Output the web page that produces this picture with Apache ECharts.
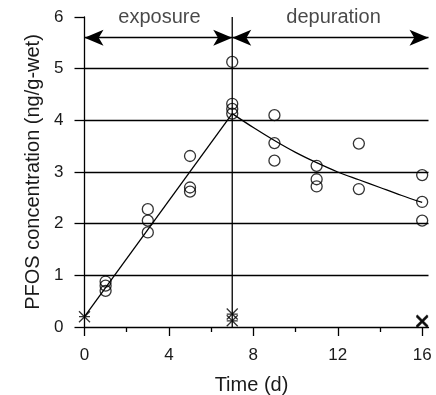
<!DOCTYPE html>
<html><head><meta charset="utf-8">
<script src="https://cdn.jsdelivr.net/npm/echarts@6/dist/echarts.min.js"></script>
<style>html,body{margin:0;padding:0;background:#fff}#c{width:436px;height:395px}</style>
</head><body><div id="c"></div>
<script>
// observed concentrations (open circles)
const obsDays = [1,1,1, 3,3,3, 5,5,5, 7,7,7,7, 9,9,9, 11,11,11, 13,13, 16,16,16];
const obsConc = [0.88,0.80,0.70, 2.28,2.06,1.83, 3.31,2.70,2.62, 5.13,4.32,4.22,4.13, 4.10,3.56,3.22, 3.12,2.86,2.72, 3.55,2.67, 2.94,2.42,2.06];
// control (crosses)
const ctrlDaysA = [0, 7, 7];
const ctrlConcA = [0.20, 0.25, 0.12];
const ctrlDaysB = [16, 16];
const ctrlConcB = [0.12, 0.10];
// fitted model: uptake phase (straight) and depuration phase (curve)
const uptakeDays = [0, 7];
const uptakeConc = [0.20, 4.13];
const depDays = [7, 8, 9, 10, 11, 12, 13, 14, 15, 16];
const depConc = [4.13, 3.86, 3.61, 3.38, 3.18, 3.00, 2.85, 2.70, 2.55, 2.41];
// phase boundary and labels
const phaseBoundary = 7;
const phaseStart = [0, 7];
const phaseEnd = [7, 16.3];
const phaseArrowY = 5.6;
const phaseLabels = ['exposure', 'depuration'];
const phaseLabelX = [3.55, 11.8];
const phaseLabelY = 6;
// axes
const xTicksMajor = [0, 4, 8, 12, 16];
const xTicksMinor = [2, 6, 10, 14];
const xMax = 16.3;
const yMin = 0, yMax = 6, yStep = 1;

const FONT = '"Liberation Sans", Arial, sans-serif';
const TXT = '#1a1a1a';
const ch = echarts.init(document.getElementById('c'));

const pairs = (a, b) => a.map((v, i) => [v, b[i]]);
const asterisk = 'path://M0,0L10,10M10,0L0,10M0,5L10,5';
const xmark = 'path://M0,0L10,10M10,0L0,10';

ch.setOption({
  animation: false,
  grid: {left: 84.5, right: 7.5, top: 17, bottom: 68, containLabel: false, outerBoundsMode: 'none'},
  xAxis: [{
    type: 'value', min: 0, max: xMax,
    name: 'Time (d)', nameLocation: 'middle', nameGap: 48,
    nameTextStyle: {fontFamily: FONT, fontSize: 20, color: TXT, padding: [0, 10, 0, 0]},
    axisLine: {show: true, onZero: false, lineStyle: {color: '#000', width: 1.3}},
    axisTick: {show: true, inside: false, length: 9, customValues: xTicksMajor, lineStyle: {color: '#000', width: 1.3}},
    axisLabel: {customValues: xTicksMajor, margin: 20, fontFamily: FONT, fontSize: 17, color: TXT},
    splitLine: {show: false}
  }, {
    type: 'value', min: 0, max: xMax, position: 'bottom',
    axisLine: {show: false},
    axisTick: {show: true, length: 5, customValues: xTicksMinor, lineStyle: {color: '#000', width: 1.3}},
    axisLabel: {show: false},
    splitLine: {show: false}
  }],
  yAxis: {
    type: 'value', min: yMin, max: yMax, interval: yStep,
    name: 'PFOS concentration (ng/g-wet)', nameLocation: 'middle', nameGap: 39,
    nameTextStyle: {fontFamily: FONT, fontSize: 20, color: TXT},
    axisLine: {show: true, onZero: false, lineStyle: {color: '#000', width: 1.3}},
    axisTick: {show: true, length: 10, lineStyle: {color: '#000', width: 1.3}},
    axisLabel: {margin: 21, fontFamily: FONT, fontSize: 17, color: TXT},
    splitLine: {show: true, showMinLine: false, showMaxLine: false, lineStyle: {color: '#000', width: 1.3}}
  },
  series: [
    {
      type: 'line', data: [[phaseBoundary, yMin], [phaseBoundary, yMax]],
      symbol: 'none', lineStyle: {color: '#000', width: 1.3}, silent: true, z: 3,
      markLine: {
        silent: true, animation: false,
        lineStyle: {color: '#000', width: 1.3, type: 'solid'},
        label: {show: false},
        data: phaseStart.map((s, i) => [
          {coord: [s, phaseArrowY], symbol: 'arrow', symbolSize: [12, 19]},
          {coord: [phaseEnd[i], phaseArrowY], symbol: 'arrow', symbolSize: [12, 19]}
        ])
      }
    },
    {
      type: 'line', data: pairs(uptakeDays, uptakeConc), symbol: 'none',
      lineStyle: {color: '#000', width: 1.3}, z: 4
    },
    {
      type: 'line', data: pairs(depDays, depConc), smooth: 0.3, symbol: 'none',
      lineStyle: {color: '#000', width: 1.3}, z: 4
    },
    {
      type: 'scatter', data: pairs(obsDays, obsConc), symbol: 'circle', symbolSize: 11,
      itemStyle: {color: 'rgba(0,0,0,0)', borderColor: '#000', borderWidth: 1.3}, z: 5
    },
    {
      type: 'scatter', data: pairs(ctrlDaysA, ctrlConcA), symbol: asterisk, symbolSize: 11,
      itemStyle: {color: 'none', borderColor: '#000', borderWidth: 1.3}, z: 5
    },
    {
      type: 'scatter', data: pairs(ctrlDaysB, ctrlConcB), symbol: xmark, symbolSize: 11,
      itemStyle: {color: 'none', borderColor: '#000', borderWidth: 2.2}, z: 5
    },
    {
      type: 'scatter', data: pairs(phaseLabelX, phaseLabels.map(() => phaseLabelY)), symbolSize: 0,
      clip: false, silent: true,
      label: {show: true, position: 'inside', formatter: p => phaseLabels[p.dataIndex],
        fontFamily: FONT, fontSize: 20, color: TXT},
      z: 6
    }
  ]
});
</script></body></html>
